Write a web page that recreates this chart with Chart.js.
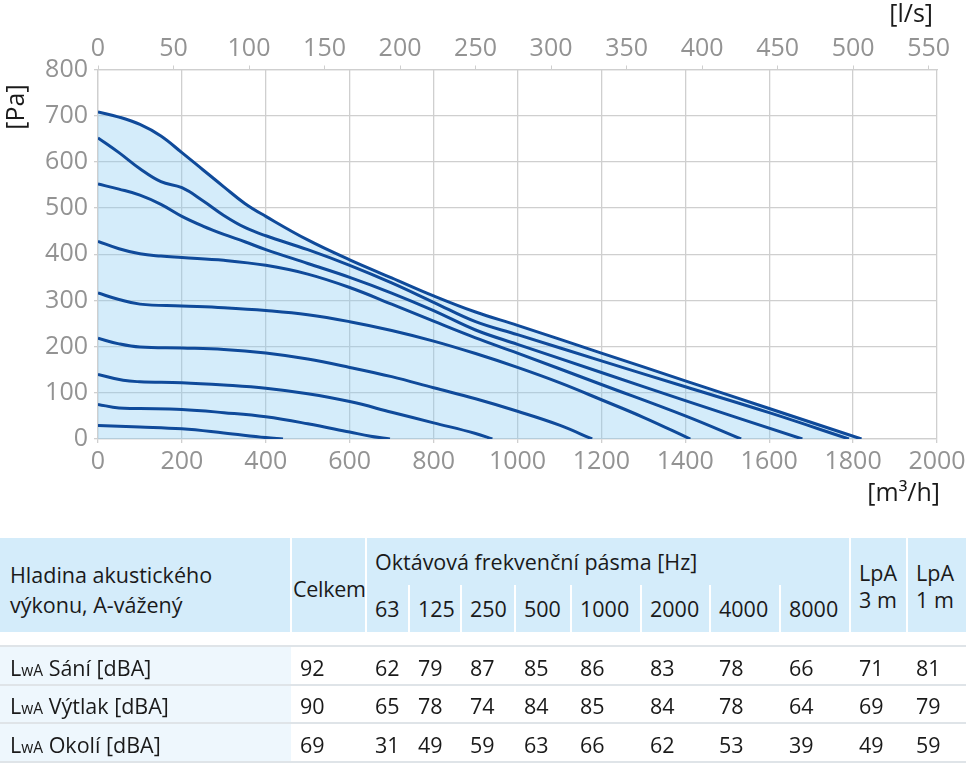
<!DOCTYPE html>
<html>
<head>
<meta charset="utf-8">
<script src="https://cdn.jsdelivr.net/npm/chart.js@4/dist/chart.umd.min.js"></script>
<style>
  html, body { margin: 0; padding: 0; background: #fff; }
  body { width: 966px; height: 763px; position: relative; overflow: hidden; font-family: 'Open Sans', sans-serif; }
  #wrap { position: absolute; left: 0; top: 0; width: 966px; height: 520px; }
  #tbl { position: absolute; left: 0; top: 0; width: 966px; height: 763px; font-size: 21.5px; color: #1a1a1a; }
  #tbl div { position: absolute; }
  .t { white-space: nowrap; line-height: 30px; height: 30px; transform: translateY(-15px); }
  .sub { font-size: 15.5px; }
</style>
</head>
<body>
<div id="wrap"><canvas id="c" width="966" height="520"></canvas></div>
<div id="tbl"></div>
<script>
// ---- Fan curves: [flow m3/h, pressure Pa] ----
const curve1 = [[0,708],[50,697],[100,681],[150,656],[200,620],[250,583],[300,546],[350,510],[400,482],[500,431],[600,388],[700,349],[800,310],[900,275],[1000,246],[1200,186],[1400,126],[1600,66],[1820,0]];
const curve2 = [[0,652],[50,620],[100,585],[150,557],[200,544],[250,516],[300,484],[350,458],[400,440],[500,410],[600,376],[700,338],[800,296],[900,254],[1000,226],[1200,169],[1400,113],[1600,57],[1790,0]];
const curve3 = [[0,552],[50,541],[100,528],[150,508],[200,482],[250,461],[300,443],[350,427],[400,410],[500,380],[600,350],[700,316],[800,278],[900,236],[1000,205],[1200,144],[1400,83],[1679,0]];
const curve4 = [[0,428],[50,412],[100,401],[150,396],[200,393],[300,387],[400,376],[500,357],[600,328],[700,292],[800,255],[900,219],[1000,186],[1200,118],[1400,50],[1533,0]];
const curve5 = [[0,316],[50,302],[100,292],[200,288],[300,284],[400,278],[500,269],[600,254],[700,235],[800,212],[900,185],[1000,155],[1100,122],[1200,85],[1300,47],[1412,0]];
const curve6 = [[0,218],[50,206],[100,199],[200,197],[300,194],[400,186],[500,173],[600,155],[700,135],[800,111],[900,87],[1000,60],[1100,30],[1178,0]];
const curve7 = [[0,140],[60,127],[100,124],[200,122],[300,117],[400,110],[500,98],[600,81],[700,58],[800,35],[900,12],[940,0]];
const curve8 = [[0,75],[50,67],[100,66],[200,64],[300,57],[400,48],[500,33],[600,15],[650,6],[696,0]];
const curve9 = [[0,29],[100,26],[200,22],[300,13],[400,3],[441,0]];
const curves = [curve1, curve2, curve3, curve4, curve5, curve6, curve7, curve8, curve9];

// ---- Axis ticks ----
const flowMin = 0, flowMax = 2000, flowStep = 200;     // m3/h
const lsStep = 50;                                      // l/s
const presMin = 0, presMax = 800, presStep = 100;       // Pa

// ---- Acoustic table ----
const tableTitle = ['Hladina akustického', 'výkonu, A-vážený'];
const totalTitle = 'Celkem';
const bandsTitle = 'Oktávová frekvenční pásma [Hz]';
const bands = ['63', '125', '250', '500', '1000', '2000', '4000', '8000'];
const lpaTitles = [['LpA', '3 m'], ['LpA', '1 m']];
const rowLabels = ['Sání [dBA]', 'Výtlak [dBA]', 'Okolí [dBA]'];
const celkem = [92, 90, 69];
const saniBands = [62, 79, 87, 85, 86, 83, 78, 66];
const vytlakBands = [65, 78, 74, 84, 85, 84, 78, 64];
const okoliBands = [31, 49, 59, 63, 66, 62, 53, 39];
const lpa3m = [71, 69, 49];
const lpa1m = [81, 79, 59];

// build table (layout only; text from arrays above)
(function () {
  const el = document.getElementById('tbl');
  const colX = [0, 292, 367, 410, 462, 516, 572, 642, 711, 781, 851, 908, 966];
  const parts = [];
  const rect = (x, y, w, h, c) => parts.push('<div style="left:' + x + 'px;top:' + y + 'px;width:' + w + 'px;height:' + h + 'px;background:' + c + '"></div>');
  const text = (x, cy, s) => parts.push('<div class="t" style="left:' + x + 'px;top:' + cy + 'px">' + s + '</div>');
  rect(0, 538, 966, 94, '#d4ecfa');
  [291, 366, 850, 907].forEach(x => rect(x - 1, 538, 2, 94, '#fff'));
  [409, 461, 515, 571, 641, 710, 780].forEach(x => rect(x - 1, 585, 2, 47, '#fff'));
  rect(0, 647, 291, 116, '#eef7fd');
  [645, 684, 722, 761].forEach(y => rect(0, y, 966, 2, '#dfe4e8'));
  text(10, 575, tableTitle[0]);
  text(10, 605, tableTitle[1]);
  text(293, 589, '<span style="letter-spacing:-0.3px">' + totalTitle + '</span>');
  text(375, 562, bandsTitle);
  bands.forEach((b, i) => text(colX[2 + i] + 8, 609, b));
  lpaTitles.forEach((t, i) => { text(colX[10 + i] + 8, 573, t[0]); text(colX[10 + i] + 8, 600, t[1]); });
  const rows = [saniBands, vytlakBands, okoliBands];
  const rowY = [668, 706, 745];
  rows.forEach((vals, r) => {
    const cy = rowY[r];
    text(10, cy, 'L<span class="sub">wA</span> ' + rowLabels[r]);
    text(colX[1] + 8, cy, celkem[r]);
    vals.forEach((v, i) => text(colX[2 + i] + 8, cy, v));
    text(colX[10] + 8, cy, lpa3m[r]);
    text(colX[11] + 8, cy, lpa1m[r]);
  });
  el.innerHTML = parts.join('');
})();

const lineColor = '#0f4a9a';
const gridColor = '#cfcfcf';
const tickColor = '#939393';
const fontFam = "'Open Sans', sans-serif";

const datasets = curves.map((c, i) => ({
  data: c.map(p => ({ x: p[0], y: p[1] })),
  showLine: true,
  borderColor: lineColor,
  borderWidth: 3,
  pointRadius: 0,
  tension: 0.4,
  fill: i === 0 ? 'origin' : false,
  backgroundColor: i === 0 ? 'rgba(135,201,241,0.36)' : 'transparent'
}));

const unitLabels = {
  id: 'unitLabels',
  afterDraw(chart) {
    const ctx = chart.ctx;
    const a = chart.chartArea;
    ctx.save();
    ctx.fillStyle = '#1a1a1a';
    ctx.font = "25px " + fontFam;
    ctx.textBaseline = 'middle';
    ctx.textAlign = 'right';
    ctx.fillText('[l/s]', a.right - 4, 15);
    ctx.fillText('[m³/h]', a.right + 3, 494);
    ctx.translate(17, 107);
    ctx.rotate(-Math.PI / 2);
    ctx.textAlign = 'center';
    ctx.fillText('[Pa]', 0, 0);
    ctx.restore();
  }
};

const plain = v => String(v);
const noSidePad = s => { s.paddingLeft = 0; s.paddingRight = 0; };

new Chart(document.getElementById('c'), {
  type: 'scatter',
  data: { datasets },
  plugins: [unitLabels],
  options: {
    responsive: false,
    animation: false,
    layout: { padding: { left: 0, right: 29, top: 0, bottom: 0 } },
    plugins: {
      legend: { display: false },
      tooltip: { enabled: false },
      filler: { drawTime: 'beforeDatasetsDraw' }
    },
    scales: {
      x: {
        type: 'linear', position: 'bottom', min: flowMin, max: flowMax,
        ticks: { stepSize: flowStep, color: tickColor, font: { family: fontFam, size: 25 }, padding: 4, maxRotation: 0, callback: plain },
        grid: { color: gridColor, tickLength: 4, lineWidth: 1.3 },
        border: { color: gridColor, width: 1.3 },
        afterFit(s) { s.height = 81; noSidePad(s); }
      },
      x2: {
        type: 'linear', position: 'top', min: flowMin / 3.6, max: flowMax / 3.6,
        ticks: { stepSize: lsStep, includeBounds: false, color: tickColor, font: { family: fontFam, size: 25 }, padding: 2, maxRotation: 0, callback: plain },
        grid: { drawOnChartArea: false, color: gridColor, tickLength: 4 },
        border: { color: gridColor, width: 1.3 },
        afterFit(s) { s.height = 69.5; noSidePad(s); }
      },
      y: {
        type: 'linear', position: 'left', min: presMin, max: presMax,
        ticks: { stepSize: presStep, color: tickColor, font: { family: fontFam, size: 25 }, padding: 6, callback: plain },
        grid: { color: gridColor, tickLength: 4, lineWidth: 1.3 },
        border: { color: gridColor, width: 1.3 },
        afterFit(s) { s.width = 98; s.paddingTop = 0; s.paddingBottom = 0; }
      }
    }
  }
});
</script>
</body>
</html>
